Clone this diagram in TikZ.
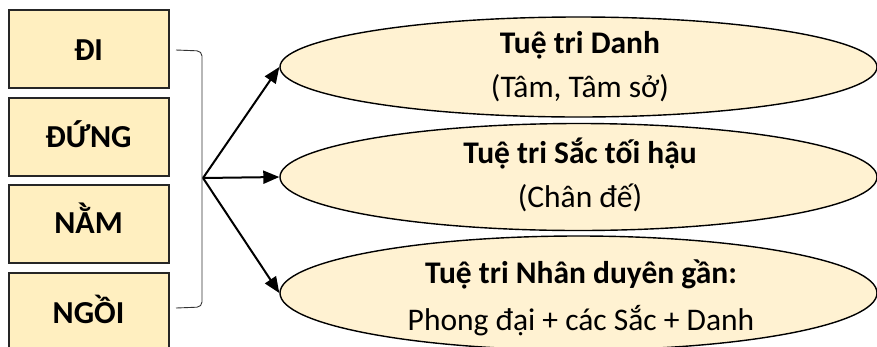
\documentclass[tikz,border=0pt]{standalone}
\usepackage{fontspec}
\setmainfont{Carlito}
\usetikzlibrary{shapes.geometric,arrows.meta}
\definecolor{boxfill}{HTML}{FFEFC0}
\definecolor{ellfill}{HTML}{FFF2D2}
\tikzset{
  actbox/.style={draw=black!85, line width=2pt, fill=boxfill, minimum width=160pt, minimum height=78pt, inner sep=0pt},
  acttext/.style={anchor=base, inner sep=0pt, font=\fontsize{32}{38}\selectfont\bfseries},
  oval/.style={ellipse, draw=black, line width=1.4pt, fill=ellfill, minimum width=597pt, inner sep=0pt},
  ovalhead/.style={anchor=base, inner sep=0pt, font=\fontsize{31.5}{37}\selectfont\bfseries},
  ovalsub/.style={anchor=base, inner sep=0pt, font=\fontsize{31.5}{37}\selectfont},
  arr/.style={line width=2pt, -{Triangle[length=16pt,width=13pt]}},
  brk/.style={line width=0.9pt, draw=black!80, rounded corners=5pt}
}
\begin{document}
\begin{tikzpicture}[x=1pt,y=-1pt]
\useasboundingbox (0,0) rectangle (877,346);
\clip (0,0) rectangle (877,346);
% left boxes
\node[actbox] (di) at (88.5,48.5) {};
\node[actbox] (dung) at (88.5,137) {};
\node[actbox] (nam) at (88.5,223.5) {};
\node[actbox] (ngoi) at (88.5,312) {};
\node[acttext] (tdi) at (88.5,60) {ĐI};
\node[acttext] (tdung) at (88.5,147) {ĐỨNG};
\node[acttext] (tnam) at (88.5,233) {NẰM};
\node[acttext] (tngoi) at (88.5,323) {NGỒI};
% bracket
\coordinate (b1) at (176,50);
\coordinate (b2) at (202,51);
\coordinate (b3) at (202,307);
\coordinate (b4) at (176,308);
\coordinate (apex) at (203,178);
\draw[brk] (b1) -- (b2) -- (b3) -- (b4);
% ellipses
\node[oval, minimum height=100pt] (e1) at (578.5,67) {};
\node[oval, minimum height=107pt] (e2) at (578.5,177) {};
\node[oval, minimum height=114pt] (e3) at (578.5,293) {};
\node[ovalhead] (t1a) at (580,53) {Tuệ tri Danh};
\node[ovalsub] (t1b) at (580,97) {(Tâm, Tâm sở)};
\node[ovalhead] (t2a) at (580,163) {Tuệ tri Sắc tối hậu};
\node[ovalsub] (t2b) at (580,207) {(Chân đế)};
\node[ovalhead] (t3a) at (581,283) {Tuệ tri Nhân duyên gần:};
\node[ovalsub] (t3b) at (581,330) {Phong đại + các Sắc + Danh};
% arrows
\draw[arr] (apex) -- (e1.west);
\draw[arr] (apex) -- (e2.west);
\draw[arr] (apex) -- (e3.west);
\end{tikzpicture}
\end{document}
